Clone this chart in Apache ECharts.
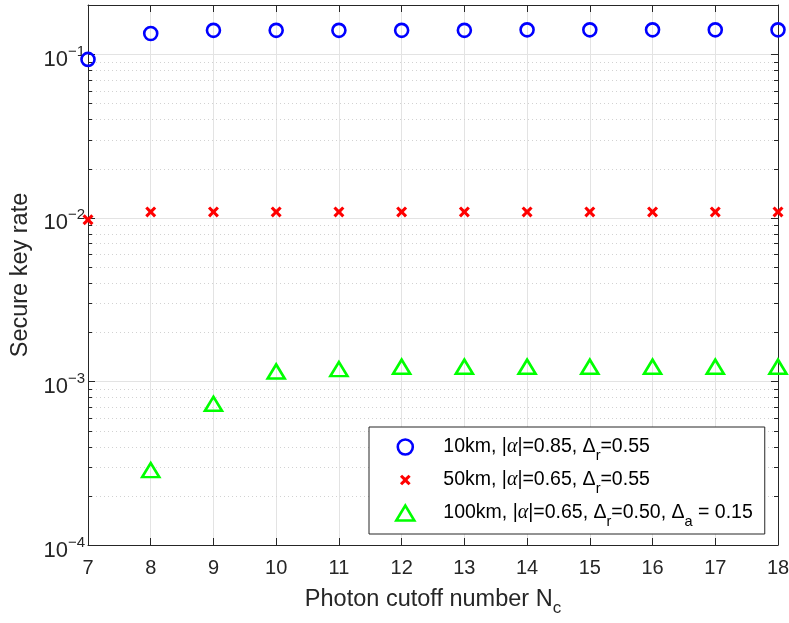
<!DOCTYPE html>
<html>
<head>
<meta charset="utf-8">
<script src="https://cdn.jsdelivr.net/npm/echarts@6/dist/echarts.min.js"></script>
<style>
  html, body { margin: 0; padding: 0; background: #fff; }
  #main { width: 789px; height: 623px; }
</style>
</head>
<body>
<div id="main"></div>
<script>
// cutoff numbers on the x axis
const cutoffs = [7, 8, 9, 10, 11, 12, 13, 14, 15, 16, 17, 18];
// secure key rate
const rate10km  = [0.093, 0.134, 0.140, 0.140, 0.140, 0.140, 0.140, 0.141, 0.141, 0.141, 0.141, 0.141];
const rate50km  = [0.00973, 0.01087, 0.01087, 0.01087, 0.01087, 0.01087, 0.01087, 0.01087, 0.01087, 0.01087, 0.01087, 0.01087];
const rate100km = [null, 0.000287, 0.00073, 0.00115, 0.00119, 0.00123, 0.00123, 0.00123, 0.00123, 0.00123, 0.00123, 0.00123];

const xTicks = [7, 8, 9, 10, 11, 12, 13, 14, 15, 16, 17, 18];
const yDecades = { '-4': '−4', '-3': '−3', '-2': '−2', '-1': '−1' };
// minor log ticks (2..9 in each decade)
const minorMantissas = [2, 3, 4, 5, 6, 7, 8, 9];
const minorDecades = [1e-4, 1e-3, 1e-2];

const seriesNames = [
  '10km, |{g|α}|=0.85, Δ{sub|r}=0.55',
  '50km, |{g|α}|=0.65, Δ{sub|r}=0.55',
  '100km, |{g|α}|=0.65, Δ{sub|r}=0.50, Δ{sub|a} = 0.15'
];

const FONT = '"Liberation Sans", Arial, Helvetica, sans-serif';
const AX = '#262626';
const CROSS = 'M2,0L5,3L8,0L10,2L7,5L10,8L8,10L5,7L2,10L0,8L3,5L0,2Z';

const minorData = [];
minorDecades.forEach(d => {
  minorMantissas.forEach(m => minorData.push([xTicks[0], m * d]));
});

const chart = echarts.init(document.getElementById('main'));

function axisCommon() {
  return {
    axisLine: { show: true, onZero: false, lineStyle: { color: AX, width: 1 } },
    axisTick: { show: true, inside: true, length: 7, lineStyle: { color: AX } }
  };
}

chart.setOption({
  animation: false,
  backgroundColor: '#fff',
  textStyle: { fontFamily: FONT },
  grid: { left: 88, right: 11, top: 5, bottom: 78, outerBoundsMode: 'none' },
  xAxis: [
    Object.assign({
      type: 'value', min: 7, max: 18, interval: 1, position: 'bottom',
      name: 'Photon cutoff number N{sub|c}',
      nameLocation: 'middle', nameGap: 38,
      nameTextStyle: {
        fontSize: 23.5, color: AX, fontFamily: FONT,
        rich: { sub: { fontSize: 17, color: AX, fontFamily: FONT, padding: [17, 0, 0, 0] } }
      },
      axisLabel: { fontSize: 20, color: AX, margin: 13, fontFamily: FONT },
      splitLine: { show: true, lineStyle: { color: '#e3e3e3', width: 1 } }
    }, axisCommon()),
    Object.assign({
      type: 'value', min: 7, max: 18, interval: 1, position: 'top',
      axisLabel: { show: false }, splitLine: { show: false }
    }, axisCommon())
  ],
  yAxis: [
    Object.assign({
      type: 'log', logBase: 10, min: 1e-4, max: 0.2, position: 'left',
      name: 'Secure key rate', nameLocation: 'middle', nameGap: 50,
      nameTextStyle: { fontSize: 23.5, color: AX, fontFamily: FONT },
      axisLabel: {
        margin: 3, color: AX,
        formatter: function (v) {
          const e = Math.round(Math.log10(v));
          if (Math.abs(Math.log10(v) - e) > 1e-6 || yDecades[String(e)] === undefined) return '';
          return '{b|10}{s|' + yDecades[String(e)] + '}';
        },
        rich: {
          b: { fontSize: 22, color: AX, fontFamily: FONT, padding: [11, 0, 0, 0] },
          s: { fontSize: 15, color: AX, fontFamily: FONT, padding: [0, 0, 5, 0] }
        }
      },
      splitLine: { show: true, lineStyle: { color: '#e3e3e3', width: 1 } }
    }, axisCommon()),
    Object.assign({
      type: 'log', logBase: 10, min: 1e-4, max: 0.2, position: 'right',
      axisLabel: { show: false }, splitLine: { show: false }
    }, axisCommon())
  ],
  legend: {
    orient: 'vertical',
    left: 369, top: 427,
    padding: [10, 12, 5, 26],
    itemWidth: 66, itemHeight: 15, itemGap: 7,
    borderColor: AX, borderWidth: 1, backgroundColor: '#fff',
    selectedMode: false,
    textStyle: {
      fontSize: 19.5, color: '#000', fontFamily: FONT,
      rich: {
        sub: { fontSize: 14.5, color: '#000', fontFamily: FONT, padding: [17, 0, 0, 0] },
        g: { fontSize: 20, color: '#000', fontFamily: '"Liberation Serif", "DejaVu Serif", serif', fontStyle: 'italic' }
      }
    },
    data: [
      { name: seriesNames[0], itemStyle: { borderWidth: 2.6 } },
      { name: seriesNames[1], icon: 'path://M-2,-2M12,12M' + CROSS.slice(1) },
      { name: seriesNames[2], itemStyle: { borderWidth: 2.6 } }
    ]
  },
  series: [
    {
      // dotted minor grid + minor ticks on the log axis
      type: 'custom', silent: true, z: 1,
      xAxisIndex: 0, yAxisIndex: 0,
      data: minorData,
      renderItem: function (params, api) {
        const cs = params.coordSys;
        const y = Math.round(api.coord([api.value(0), api.value(1)])[1]) + 0.5;
        return {
          type: 'group',
          children: [
            { type: 'line', shape: { x1: cs.x, y1: y, x2: cs.x + cs.width, y2: y },
              style: { stroke: '#d2d2d2', lineWidth: 1, lineDash: [1, 3] } },
            { type: 'line', shape: { x1: cs.x, y1: y, x2: cs.x + 4, y2: y },
              style: { stroke: AX, lineWidth: 1 } },
            { type: 'line', shape: { x1: cs.x + cs.width - 4, y1: y, x2: cs.x + cs.width, y2: y },
              style: { stroke: AX, lineWidth: 1 } }
          ]
        };
      }
    },
    {
      name: seriesNames[0], type: 'scatter', z: 5,
      symbol: 'circle', symbolSize: 13,
      itemStyle: { color: 'rgba(255,255,255,0)', borderColor: '#0000ff', borderWidth: 2.6, opacity: 1 },
      data: cutoffs.map((c, i) => [c, rate10km[i]])
    },
    {
      name: seriesNames[1], type: 'scatter', z: 5,
      symbol: 'path://' + CROSS, symbolSize: 11,
      itemStyle: { color: '#ff0000', opacity: 1 },
      data: cutoffs.map((c, i) => [c, rate50km[i]])
    },
    {
      name: seriesNames[2], type: 'scatter', z: 5,
      symbol: 'path://M0,15L9,0L18,15Z', symbolSize: [17, 14],
      itemStyle: { color: 'rgba(255,255,255,0)', borderColor: '#00ff00', borderWidth: 2.6, opacity: 1 },
      data: cutoffs.map((c, i) => [c, rate100km[i]])
    }
  ]
});
</script>
</body>
</html>
